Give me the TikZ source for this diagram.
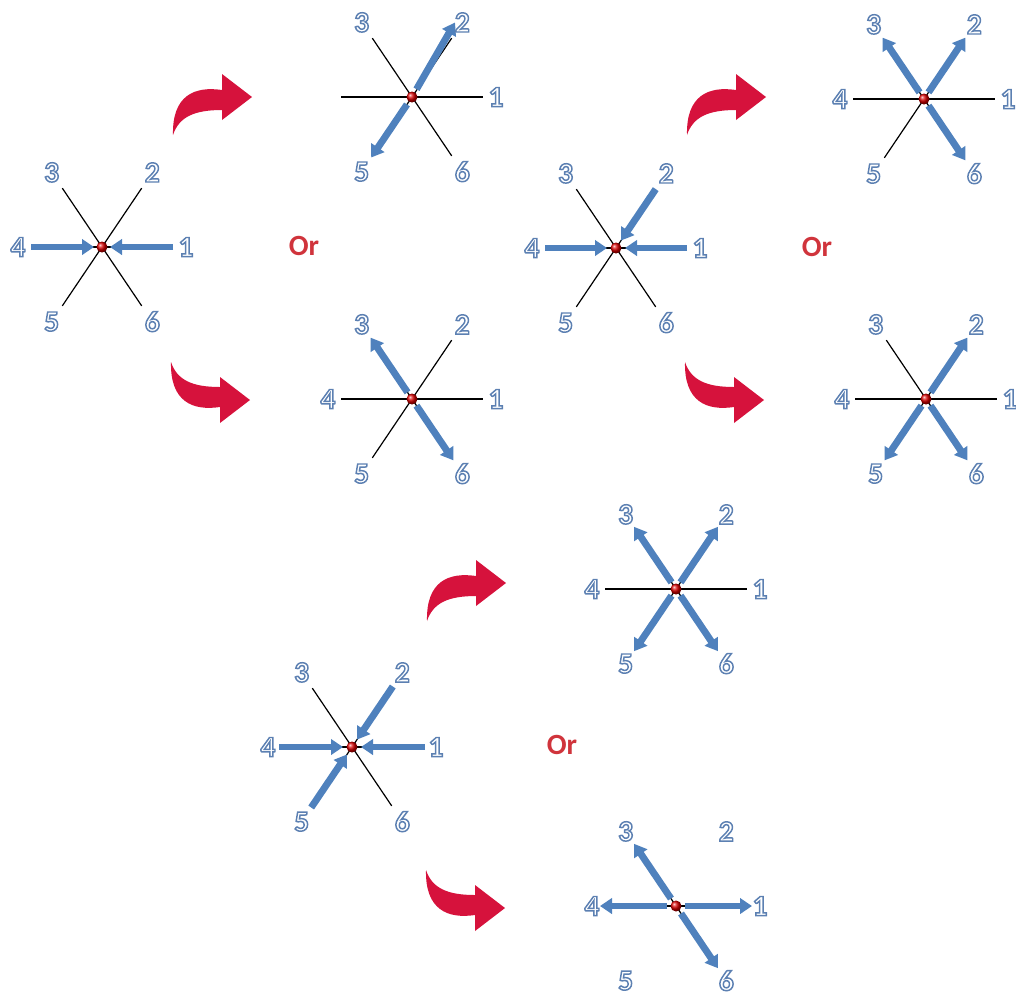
\documentclass[tikz,border=0pt]{standalone}
\usepackage{fontspec}
\setmainfont{Carlito}
\usetikzlibrary{arrows.meta,calc}
\definecolor{armblue}{RGB}{79,129,189}
\definecolor{curvered}{RGB}{214,18,60}
\definecolor{orred}{RGB}{208,52,60}
% outlined digits: white fill, blue-grey stroke
\newcommand\outl[1]{{\color{white}\special{pdf:code q 2 Tr 1.1 w 0.36 0.50 0.70 RG}#1\special{pdf:code Q}}}
% arm labels round a centre
\newcommand\hexlabels[2]{%
  \foreach \k/\a/\r in #2
    {\node[num] (#1\k) at ($(#1)+(\a:\r)$) {\outl{\k}};}}
\newcommand\alllabels{1/0/84,2/-56/90,3/-124/90,4/180/84,5/124/90,6/56/90}

\tikzset{
  arm/.style={line width=0.9pt},
  barrow/.style={armblue,line width=5.2pt,-{Triangle[width=11.5pt,length=9pt]}},
  num/.style={font=\fontsize{22}{24}\selectfont\bfseries,inner sep=0pt},
  ortext/.style={font=\fontsize{22}{24}\selectfont\bfseries,text=orred},
  hub/.style={ball color=red!85!black},
  turnarrow/.pic={
    \fill[curvered] (0,0) -- (-30,-23) -- (-30,-7)
      .. controls (-57,-11) and (-80,-2) .. (-79,38)
      .. controls (-73,20) and (-58,13) .. (-30,13) -- (-30,23) -- cycle;}
}

\begin{document}
\begin{tikzpicture}[x=0.75pt,y=-0.75pt]
  \useasboundingbox (0,0) rectangle (1016,997);

  \coordinate (A) at (102,247);   \coordinate (B) at (412,97);
  \coordinate (C) at (616,248);   \coordinate (D) at (924,99);
  \coordinate (E) at (412,399);   \coordinate (F) at (926,399);
  \coordinate (G) at (676,589);   \coordinate (H) at (352,747);
  \coordinate (I) at (676,906);

  % black axes (1:0, 2:-56, 3:-124, 4:180, 5:124, 6:56)
  \foreach \c in {A,B,C,D,E,F,G,H}
    \foreach \a in {0,-56,-124,180,124,56}
      \draw[arm] (\c) -- ++(\a:71);
  \foreach \a in {0,-124,180,56} \draw[arm] (I) -- ++(\a:71);

  % arrows pointing in
  \foreach \a in {0,180} \draw[barrow] ($(A)+(\a:71)$) -- ($(A)+(\a:8)$);
  \foreach \a in {0,-56,180} \draw[barrow] ($(C)+(\a:71)$) -- ($(C)+(\a:9)$);
  \foreach \a in {0,-56,180,124} \draw[barrow] ($(H)+(\a:73)$) -- ($(H)+(\a:9)$);

  % arrows pointing out
  \draw[barrow] ($(B)+(-60:9)$) -- ($(B)+(-60:86)$);
  \draw[barrow] ($(B)+(124:9)$) -- ($(B)+(124:73)$);
  \foreach \a in {-56,-124,56} \draw[barrow] ($(D)+(\a:8)$) -- ($(D)+(\a:74)$);
  \foreach \a in {-124,56} \draw[barrow] ($(E)+(\a:8)$) -- ($(E)+(\a:74)$);
  \foreach \a in {-56,124,56} \draw[barrow] ($(F)+(\a:8)$) -- ($(F)+(\a:74)$);
  \foreach \a in {-56,-124,124,56} \draw[barrow] ($(G)+(\a:8)$) -- ($(G)+(\a:75)$);
  \foreach \a in {0,180} \draw[barrow] ($(I)+(\a:9)$) -- ($(I)+(\a:76)$);
  \foreach \a in {-124,56} \draw[barrow] ($(I)+(\a:9)$) -- ($(I)+(\a:75)$);

  % red hubs and labels
  \foreach \c in {A,B,C,D,E,F,G,H,I}
    {\shade[hub] (\c) circle[radius=5.5];}
  \foreach \c in {A,C,D,E,F,G,H,I}
    {\hexlabels{\c}{\alllabels}}
  \hexlabels{B}{{1/0/84,2/-56/90,3/-124/90,5/124/90,6/56/90}}

  % curved red arrows
  \pic at (252,97) {turnarrow};
  \pic at (766,97) {turnarrow};
  \pic at (506,583) {turnarrow};
  \pic[yscale=-1] at (250,400) {turnarrow};
  \pic[yscale=-1] at (764,400) {turnarrow};
  \pic[yscale=-1] at (505,908) {turnarrow};

  \node[ortext] (or1) at (304,246) {Or};
  \node[ortext] (or2) at (817,247) {Or};
  \node[ortext] (or3) at (562,745) {Or};
\end{tikzpicture}
\end{document}
